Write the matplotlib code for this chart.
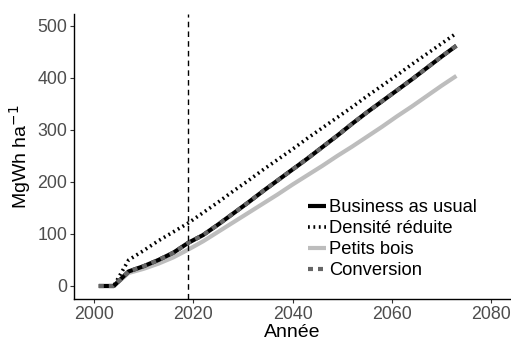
import matplotlib
matplotlib.use('Agg')
import matplotlib.pyplot as plt

plt.rcParams['font.family'] = ['Liberation Sans', 'DejaVu Sans']

years = [2001, 2004, 2007, 2010, 2013, 2016, 2019, 2022, 2025, 2028, 2031, 2034,
         2037, 2040, 2043, 2046, 2049, 2052, 2055, 2058, 2061, 2064, 2067, 2070, 2073]
bau = [0, 0, 28, 38, 50, 64, 83, 98, 118, 139, 160, 182,
       203, 224, 245, 267, 289, 312, 334, 355, 376, 397, 419, 441, 462]
densite = [0, 0, 50, 68, 87, 104, 121, 141, 161, 182, 202, 223,
           243, 263, 284, 304, 324, 344, 365, 385, 405, 426, 446, 466, 486]
petits_bois = [0, 0, 25, 33, 43, 55, 70, 86, 104, 122, 140, 158,
               176, 195, 213, 231, 250, 268, 287, 306, 326, 345, 365, 385, 404]
conversion = bau
ref_year = 2019

fig = plt.figure(figsize=(5.11, 3.43), dpi=100)
ax = fig.add_axes([74 / 511, 44 / 343, 437 / 511, 285 / 343])

ax.plot(years, petits_bois, color='#bdbdbd', lw=3.0, solid_capstyle='butt', label='Petits bois')
ax.plot(years, densite, color='black', lw=2.6, linestyle=(0, (0.5, 1.0)), label='Densité réduite')
ax.plot(years, bau, color='black', lw=3.0, solid_capstyle='butt', label='Business as usual')
ax.plot(years, conversion, color='#666666', lw=3.0, linestyle=(0, (1.2, 1.2)), label='Conversion')
ax.axvline(ref_year, color='black', lw=1.0, linestyle=(0, (4, 3)))

ax.set_xlim(1996, 2084)
ax.set_ylim(-25, 523)
ax.set_xticks([2000, 2020, 2040, 2060, 2080])
ax.set_yticks([0, 100, 200, 300, 400, 500])
for s in ['top', 'right']:
    ax.spines[s].set_visible(False)
for s in ['left', 'bottom']:
    ax.spines[s].set_linewidth(1.0)
ax.tick_params(labelsize=12.8, labelcolor='#4d4d4d', color='#333333', length=3, width=0.8, pad=2)
ax.set_xlabel('Année', fontsize=14, labelpad=1)
ax.set_ylabel('MgWh ha$^{-1}$', fontsize=14, labelpad=3)

h, l = ax.get_legend_handles_labels()
order = [2, 1, 0, 3]
ax.legend([h[i] for i in order], [l[i] for i in order], loc='lower left',
          bbox_to_anchor=(0.535, 0.07), frameon=False, fontsize=13.2,
          handlelength=1.0, handletextpad=0.15, labelspacing=0.22,
          borderpad=0, borderaxespad=0)

fig.savefig('out.png', dpi=100)
